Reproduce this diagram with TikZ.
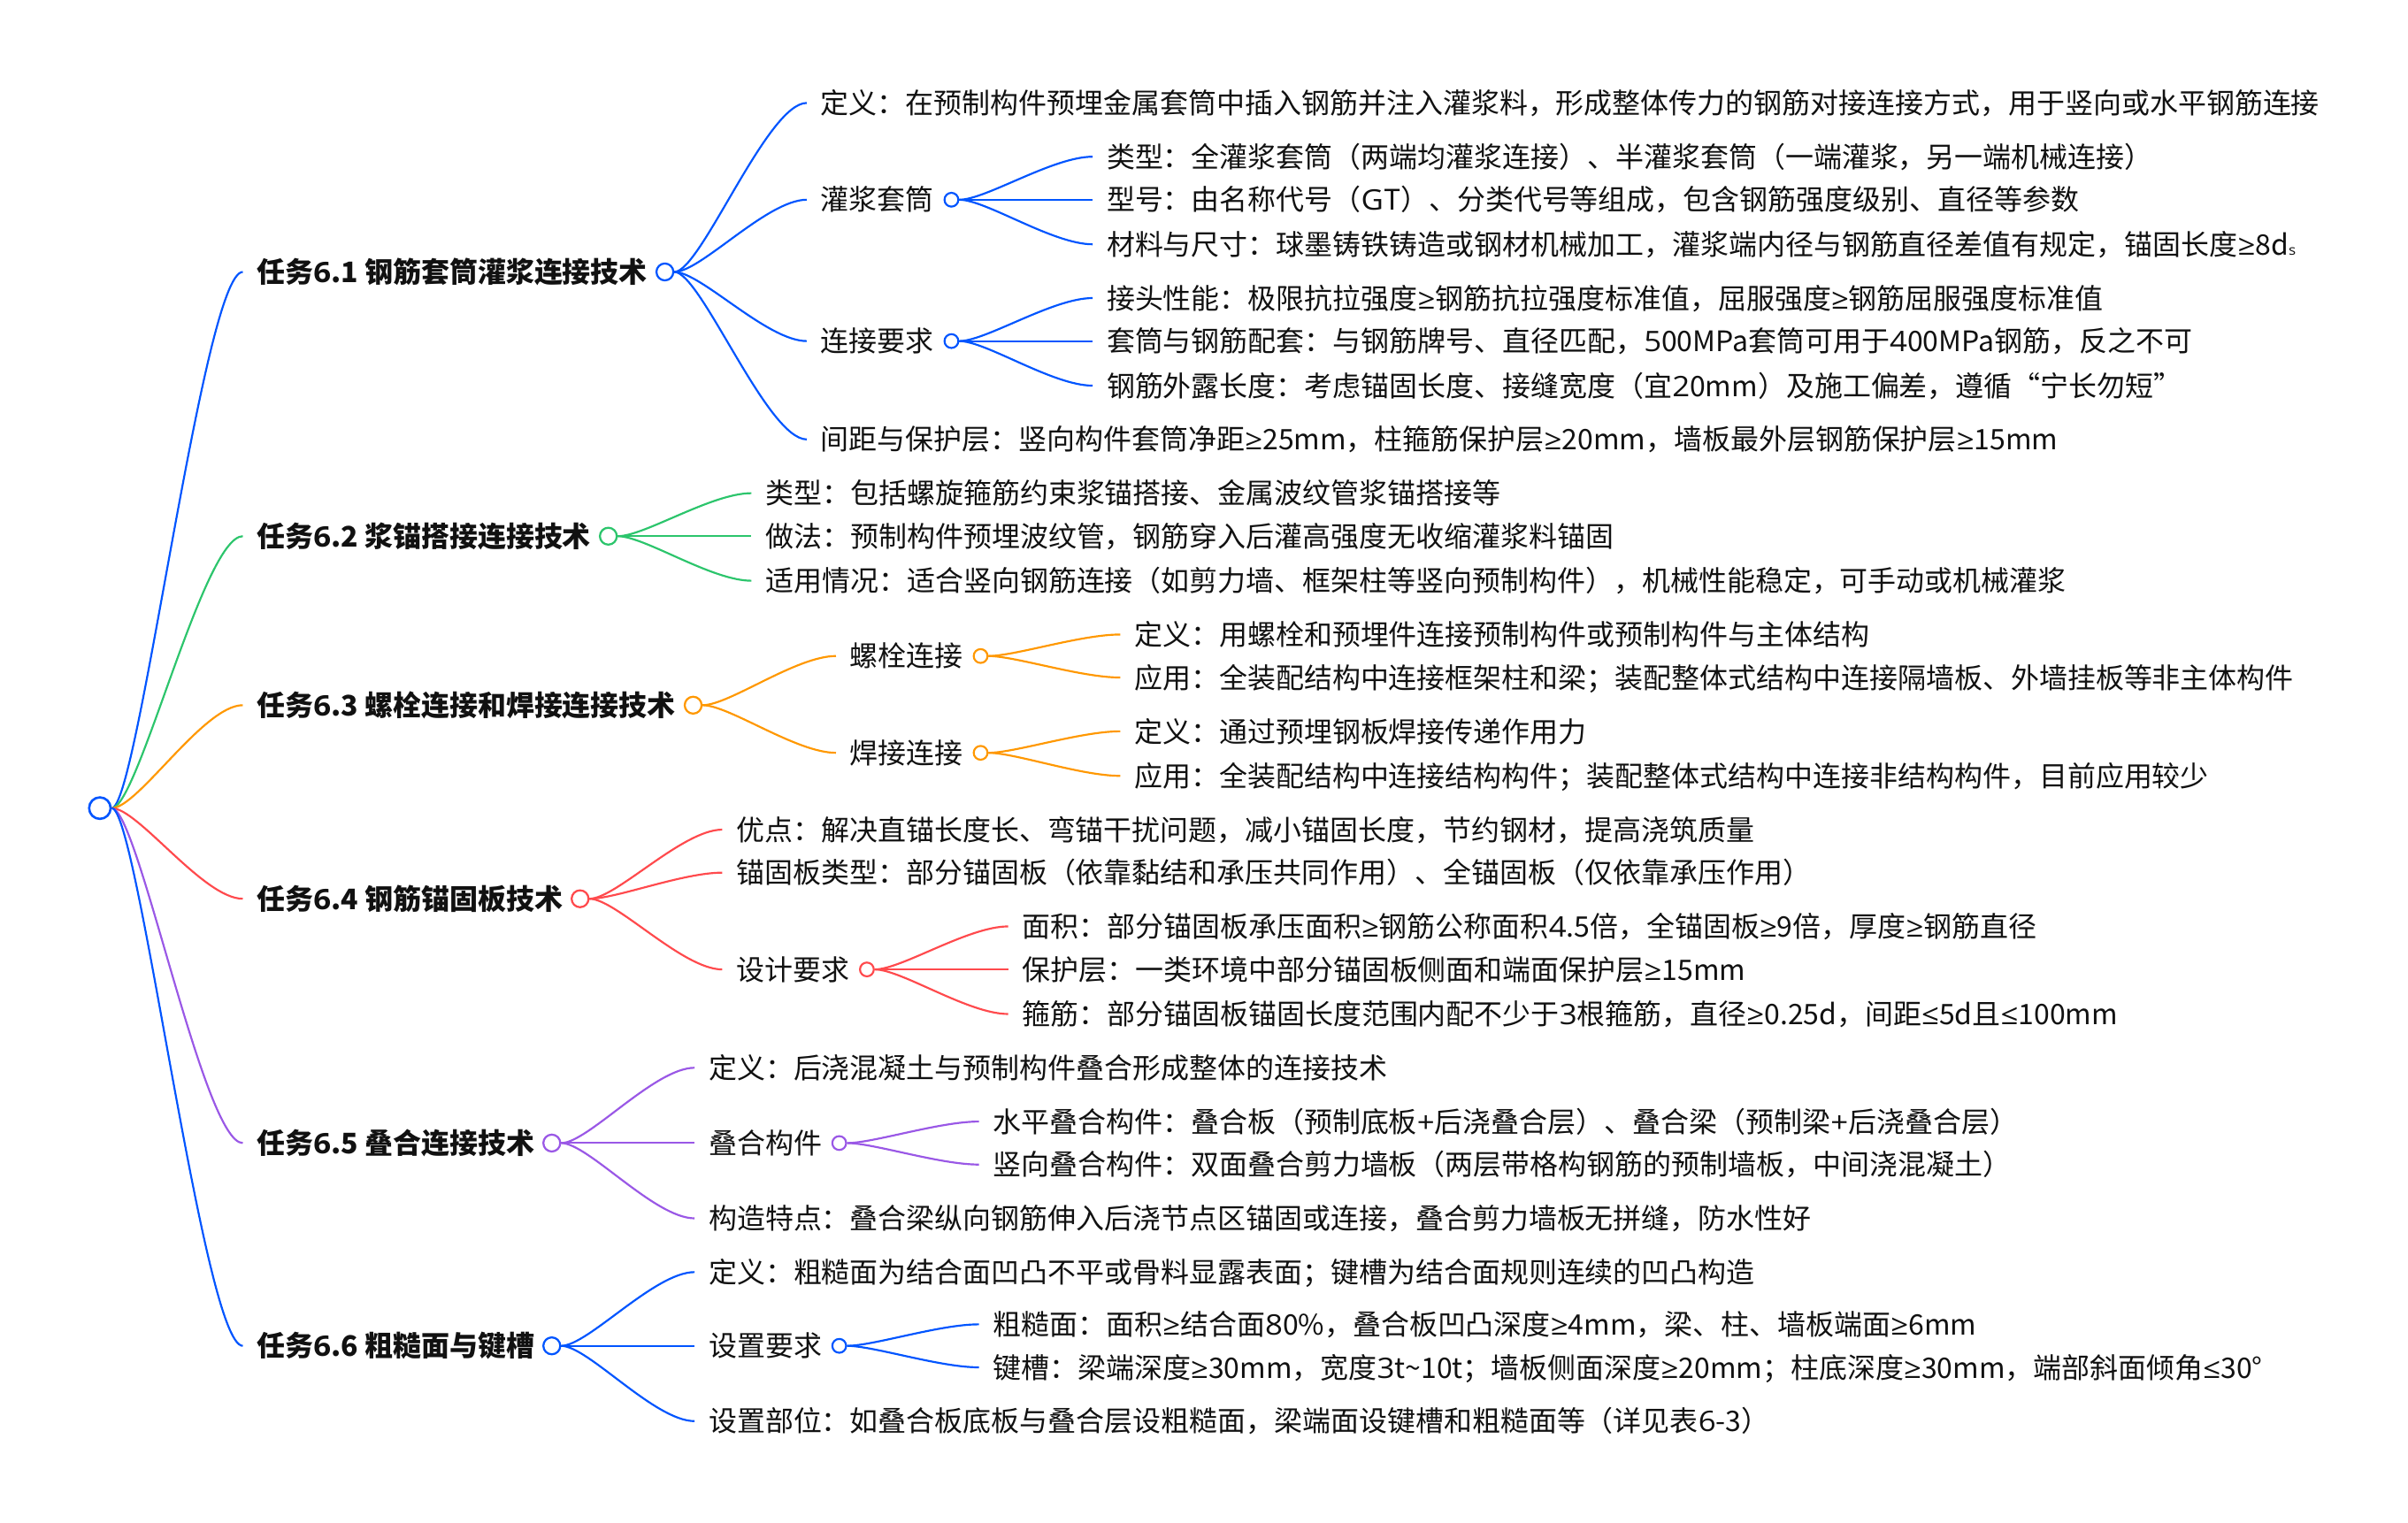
\documentclass[tikz,border=0pt]{standalone}
\usepackage{fontspec}
\setmainfont{Noto Sans CJK SC}
\newfontfamily\cjkf{Noto Sans CJK SC}
\newfontfamily\latf[FakeStretch=1.09]{Open Sans}
\usetikzlibrary{calc}
\newXeTeXintercharclass\latclass
\makeatletter
\@tempcnta=`0 \loop\ifnum\@tempcnta<`:\XeTeXcharclass\@tempcnta=\latclass\advance\@tempcnta1 \repeat
\@tempcnta=`A \loop\ifnum\@tempcnta<`[\XeTeXcharclass\@tempcnta=\latclass\advance\@tempcnta1 \repeat
\@tempcnta=`a \loop\ifnum\@tempcnta<`\{\XeTeXcharclass\@tempcnta=\latclass\advance\@tempcnta1 \repeat
\makeatother
\XeTeXcharclass`.=\latclass
\XeTeXcharclass`\%=\latclass
\XeTeXcharclass`\~=\latclass
\XeTeXcharclass`+=\latclass
\XeTeXcharclass`-=\latclass
\XeTeXcharclass"00B0=\latclass
\XeTeXcharclass"2265=\latclass
\XeTeXcharclass"2264=\latclass
\XeTeXinterchartoks 0 \latclass={\latf}
\XeTeXinterchartoks 1 \latclass={\latf}
\XeTeXinterchartoks 2 \latclass={\latf}
\XeTeXinterchartoks 3 \latclass={\latf}
\XeTeXinterchartoks \latclass 0={\cjkf}
\XeTeXinterchartoks \latclass 1={\cjkf}
\XeTeXinterchartoks \latclass 2={\cjkf}
\XeTeXinterchartoks \latclass 3={\cjkf}
\XeTeXinterchartoks 4095 1={\cjkf}
\XeTeXinterchartoks 4095 2={\cjkf}
\XeTeXinterchartoks 4095 3={\cjkf}
\XeTeXinterchartoks 4095 0={\cjkf}
\XeTeXinterchartoks 4095 \latclass={\latf}
\definecolor{cBlue}{HTML}{0055FF}
\definecolor{cGreen}{HTML}{2CC56C}
\definecolor{cOrange}{HTML}{FF9800}
\definecolor{cRed}{HTML}{FF4A4D}
\definecolor{cPurple}{HTML}{9A58E6}
\definecolor{txt}{HTML}{111111}
\newcommand\fs{\fontsize{18.4pt}{22pt}\selectfont\XeTeXinterchartokenstate=1 }
\newcommand\curvelink[3][]{\draw[edgeline,#1] let \p1=(#2), \p2=(#3), \n1={\x2-\x1} in (\p1) .. controls ({\x1+0.2*\n1},{\y1}) and ({\x2-0.3*\n1},{\y2}) .. (\p2);}
\tikzset{
  lvlone/.style={anchor=west, inner xsep=9pt, inner ysep=0pt, text height=16.2pt, text depth=2.2pt, font=\bfseries\fs, text=txt},
  leaf/.style={anchor=west, inner xsep=9pt, inner ysep=0pt, text height=16.2pt, text depth=2.2pt, font=\fs, text=txt},
  dotone/.style={circle, draw, fill=white, minimum size=11pt, inner sep=0pt, line width=1.3pt, anchor=west},
  dottwo/.style={circle, draw, fill=white, minimum size=9pt, inner sep=0pt, line width=1.25pt, anchor=west},
  rootdot/.style={circle, draw=cBlue, fill=white, minimum size=14pt, inner sep=0pt, line width=1.5pt},
  edgeline/.style={line width=1.25pt},
}
\begin{document}
\XeTeXinterchartokenstate=1
\begin{tikzpicture}[x=1pt,y=-1pt]
\fill[white] (0,0) rectangle (1567,991.3);
\useasboundingbox (0,0) rectangle (1567,991.3);

% root
\node[rootdot] (root) at (65,526) {};

% level 1
\node[lvlone] (t1) at (158,177) {任务6.1 钢筋套筒灌浆连接技术};
\node[dotone, draw=cBlue] (c1) at ([xshift=-4pt]t1.east) {};
\node[lvlone] (t2) at (158,349) {任务6.2 浆锚搭接连接技术};
\node[dotone, draw=cGreen] (c2) at ([xshift=-4pt]t2.east) {};
\node[lvlone] (t3) at (158,459) {任务6.3 螺栓连接和焊接连接技术};
\node[dotone, draw=cOrange] (c3) at ([xshift=-4pt]t3.east) {};
\node[lvlone] (t4) at (158,585) {任务6.4 钢筋锚固板技术};
\node[dotone, draw=cRed] (c4) at ([xshift=-4pt]t4.east) {};
\node[lvlone] (t5) at (158,744) {任务6.5 叠合连接技术};
\node[dotone, draw=cPurple] (c5) at ([xshift=-4pt]t5.east) {};
\node[lvlone] (t6) at (158,876) {任务6.6 粗糙面与键槽};
\node[dotone, draw=cBlue] (c6) at ([xshift=-4pt]t6.east) {};

\curvelink[cBlue]{root.east}{t1.west}
\curvelink[cGreen]{root.east}{t2.west}
\curvelink[cOrange]{root.east}{t3.west}
\curvelink[cRed]{root.east}{t4.west}
\curvelink[cPurple]{root.east}{t5.west}
\curvelink[cBlue]{root.east}{t6.west}

% ---- 6.1
\node[leaf] (a1) at (525,67) {定义：在预制构件预埋金属套筒中插入钢筋并注入灌浆料，形成整体传力的钢筋对接连接方式，用于竖向或水平钢筋连接};
\node[leaf] (a2) at (525,130) {灌浆套筒};
\node[dottwo, draw=cBlue] (ca2) at ([xshift=-3pt]a2.east) {};
\node[leaf] (a3) at (525,222) {连接要求};
\node[dottwo, draw=cBlue] (ca3) at ([xshift=-3pt]a3.east) {};
\node[leaf] (a4) at (525,286) {间距与保护层：竖向构件套筒净距≥25mm，柱箍筋保护层≥20mm，墙板最外层钢筋保护层≥15mm};
\node[leaf] (a21) at (711,102) {类型：全灌浆套筒（两端均灌浆连接）、半灌浆套筒（一端灌浆，另一端机械连接）};
\node[leaf] (a22) at (711,130) {型号：由名称代号（GT）、分类代号等组成，包含钢筋强度级别、直径等参数};
\node[leaf] (a23) at (711,159) {材料与尺寸：球墨铸铁铸造或钢材机械加工，灌浆端内径与钢筋直径差值有规定，锚固长度≥8d{\fontsize{9pt}{10pt}\selectfont s}};
\node[leaf] (a31) at (711,194) {接头性能：极限抗拉强度≥钢筋抗拉强度标准值，屈服强度≥钢筋屈服强度标准值};
\node[leaf] (a32) at (711,222) {套筒与钢筋配套：与钢筋牌号、直径匹配，500MPa套筒可用于400MPa钢筋，反之不可};
\node[leaf] (a33) at (711,251) {钢筋外露长度：考虑锚固长度、接缝宽度（宜20mm）及施工偏差，遵循“宁长勿短”};
\foreach \k in {a1,a2,a3,a4} {\curvelink[cBlue]{c1.east}{\k.west}}
\foreach \k in {a21,a22,a23} {\curvelink[cBlue]{ca2.east}{\k.west}}
\foreach \k in {a31,a32,a33} {\curvelink[cBlue]{ca3.east}{\k.west}}

% ---- 6.2
\node[leaf] (b1) at (489,321) {类型：包括螺旋箍筋约束浆锚搭接、金属波纹管浆锚搭接等};
\node[leaf] (b2) at (489,349) {做法：预制构件预埋波纹管，钢筋穿入后灌高强度无收缩灌浆料锚固};
\node[leaf] (b3) at (489,378) {适用情况：适合竖向钢筋连接（如剪力墙、框架柱等竖向预制构件），机械性能稳定，可手动或机械灌浆};
\foreach \k in {b1,b2,b3} {\curvelink[cGreen]{c2.east}{\k.west}}

% ---- 6.3
\node[leaf] (d1) at (544,427) {螺栓连接};
\node[dottwo, draw=cOrange] (cd1) at ([xshift=-3pt]d1.east) {};
\node[leaf] (d2) at (544,490) {焊接连接};
\node[dottwo, draw=cOrange] (cd2) at ([xshift=-3pt]d2.east) {};
\node[leaf] (d11) at (729,413) {定义：用螺栓和预埋件连接预制构件或预制构件与主体结构};
\node[leaf] (d12) at (729,441) {应用：全装配结构中连接框架柱和梁；装配整体式结构中连接隔墙板、外墙挂板等非主体构件};
\node[leaf] (d21) at (729,476) {定义：通过预埋钢板焊接传递作用力};
\node[leaf] (d22) at (729,505) {应用：全装配结构中连接结构构件；装配整体式结构中连接非结构构件，目前应用较少};
\foreach \k in {d1,d2} {\curvelink[cOrange]{c3.east}{\k.west}}
\foreach \k in {d11,d12} {\curvelink[cOrange]{cd1.east}{\k.west}}
\foreach \k in {d21,d22} {\curvelink[cOrange]{cd2.east}{\k.west}}

% ---- 6.4
\node[leaf] (e1) at (470,540) {优点：解决直锚长度长、弯锚干扰问题，减小锚固长度，节约钢材，提高浇筑质量};
\node[leaf] (e2) at (470,568) {锚固板类型：部分锚固板（依靠黏结和承压共同作用）、全锚固板（仅依靠承压作用）};
\node[leaf] (e3) at (470,631) {设计要求};
\node[dottwo, draw=cRed] (ce3) at ([xshift=-3pt]e3.east) {};
\node[leaf] (e31) at (656,603) {面积：部分锚固板承压面积≥钢筋公称面积4.5倍，全锚固板≥9倍，厚度≥钢筋直径};
\node[leaf] (e32) at (656,631) {保护层：一类环境中部分锚固板侧面和端面保护层≥15mm};
\node[leaf] (e33) at (656,660) {箍筋：部分锚固板锚固长度范围内配不少于3根箍筋，直径≥0.25d，间距≤5d且≤100mm};
\foreach \k in {e1,e2,e3} {\curvelink[cRed]{c4.east}{\k.west}}
\foreach \k in {e31,e32,e33} {\curvelink[cRed]{ce3.east}{\k.west}}

% ---- 6.5
\node[leaf] (f1) at (452,695) {定义：后浇混凝土与预制构件叠合形成整体的连接技术};
\node[leaf] (f2) at (452,744) {叠合构件};
\node[dottwo, draw=cPurple] (cf2) at ([xshift=-3pt]f2.east) {};
\node[leaf] (f3) at (452,793) {构造特点：叠合梁纵向钢筋伸入后浇节点区锚固或连接，叠合剪力墙板无拼缝，防水性好};
\node[leaf] (f21) at (637,730) {水平叠合构件：叠合板（预制底板+后浇叠合层）、叠合梁（预制梁+后浇叠合层）};
\node[leaf] (f22) at (637,758) {竖向叠合构件：双面叠合剪力墙板（两层带格构钢筋的预制墙板，中间浇混凝土）};
\foreach \k in {f1,f2,f3} {\curvelink[cPurple]{c5.east}{\k.west}}
\foreach \k in {f21,f22} {\curvelink[cPurple]{cf2.east}{\k.west}}

% ---- 6.6
\node[leaf] (g1) at (452,828) {定义：粗糙面为结合面凹凸不平或骨料显露表面；键槽为结合面规则连续的凹凸构造};
\node[leaf] (g2) at (452,876) {设置要求};
\node[dottwo, draw=cBlue] (cg2) at ([xshift=-3pt]g2.east) {};
\node[leaf] (g3) at (452,925) {设置部位：如叠合板底板与叠合层设粗糙面，梁端面设键槽和粗糙面等（详见表6-3）};
\node[leaf] (g21) at (637,862) {粗糙面：面积≥结合面80\%，叠合板凹凸深度≥4mm，梁、柱、墙板端面≥6mm};
\node[leaf] (g22) at (637,890) {键槽：梁端深度≥30mm，宽度3t\string~10t；墙板侧面深度≥20mm；柱底深度≥30mm，端部斜面倾角≤30°};
\foreach \k in {g1,g2,g3} {\curvelink[cBlue]{c6.east}{\k.west}}
\foreach \k in {g21,g22} {\curvelink[cBlue]{cg2.east}{\k.west}}
\end{tikzpicture}
\end{document}
